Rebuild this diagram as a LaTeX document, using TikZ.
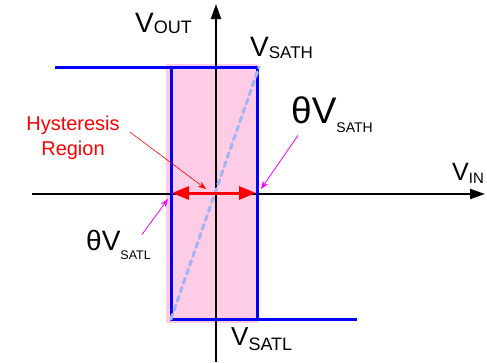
\documentclass[tikz,border=0pt]{standalone}
\usepackage{fontspec}
\setmainfont{Liberation Sans}
\usetikzlibrary{positioning,arrows.meta}
\definecolor{curve}{HTML}{0000FF}
\definecolor{band}{HTML}{FFCCE5}
\definecolor{slope}{HTML}{A6B4F2}
\definecolor{note}{HTML}{FF00FF}
\definecolor{hyst}{HTML}{FF0000}
\newcommand{\vsat}[5]{{\fontsize{#1}{#1}\selectfont #3}\raisebox{#5}{\fontsize{#2}{#2}\selectfont #4}}

\begin{document}
\begin{tikzpicture}[x=1pt,y=-1pt,
  axis/.style={line width=2pt,-{Triangle[length=15pt,width=10pt]}},
  trace/.style={curve,line width=3pt},
  leader/.style={line width=0.8pt,-{Stealth[length=8pt,width=6pt]}},
  lbl/.style={inner sep=0pt,anchor=base west}]
\useasboundingbox (0,0) rectangle (487,362);
\fill[band] (166,64) rectangle (258,323);
\coordinate (xl) at (32,194);
\coordinate (xr) at (485,194);
\coordinate (yb) at (216,362);
\coordinate (yt) at (216,4);
\draw[axis] (xl) -- (xr);
\draw[axis] (yb) -- (yt);
\coordinate (hi) at (259,67);
\coordinate (lo) at (171,319);
\draw[trace] (55,67) -- (hi);
\draw[trace] (171,67) -- (lo) -- (357,319);
\draw[trace] (257,67) -- (257,319);
\draw[slope,line width=3.2pt,line cap=round,dash pattern=on 5pt off 4.5pt] (lo) -- (hi);
\coordinate (bandl) at (172,193);
\coordinate (bandr) at (256,193);
\draw[hyst,line width=3pt,{Triangle[length=17pt,width=13pt]}-{Triangle[length=17pt,width=13pt]}] (bandl) -- (bandr);
\node[lbl] (vout) at (135,32) {\vsat{28}{18}{V}{OUT}{-1pt}};
\node[lbl] (vsath) at (250,56) {\vsat{28}{17}{V}{SATH}{-2pt}};
\node[lbl] (vin) at (452,180) {\vsat{25}{15}{V}{IN}{-3pt}};
\node[lbl] (vsatl) at (231,345) {\vsat{26}{18}{V}{SATL}{-5pt}};
\node[lbl] (thsath) at (291,123) {\vsat{37}{14}{θV}{SATH}{-9pt}};
\node[lbl] (thsatl) at (86,250) {\vsat{28}{12.5}{θV}{SATL}{-9pt}};
\node[hyst,align=center,inner sep=0pt,font=\fontsize{20}{25}\selectfont] (region) at (73,138) {Hysteresis\\Region};
\coordinate (mid) at (206,189);
\coordinate (edgeh) at (261,189);
\coordinate (edgel) at (168,199);
\draw[hyst,leader,line width=0.6pt] ([shift={(10,-6)}]region.east) -- (mid);
\draw[note,leader] ([shift={(7,3)}]thsath.south west) -- (edgeh);
\draw[note,leader] ([shift={(-9,5)}]thsatl.north east) -- (edgel);
\end{tikzpicture}
\end{document}
